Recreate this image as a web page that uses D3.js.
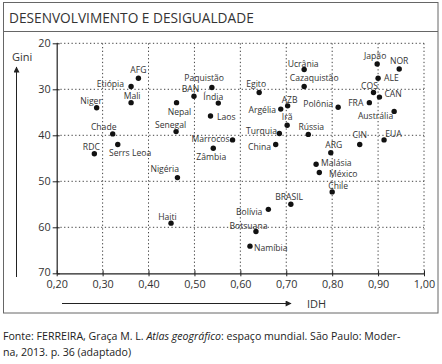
<!DOCTYPE html>
<html><head><meta charset="utf-8">
<script src="https://cdnjs.cloudflare.com/ajax/libs/d3/7.8.5/d3.min.js"></script>
<style>
html,body{margin:0;padding:0;background:#fff;}
svg{display:block;font-family:"Open Sans",sans-serif;}
</style></head>
<body><svg id="c" width="442" height="364"></svg>
<script>
const countries = ["AFG","Etiópia","Mali","Niger","Chade","RDC","Serrs Leoa","Nepal","Senegal","BAN","Paquistão","Índia","Laos","Marrocos","Zâmbia","Egito","Ucrânia","Cazaquistão","AZB","Argélia","Irã","Turquia","China","Rússia","Polônia","Japão","NOR","ALE","COS","CAN","FRA","Austrália","CIN","EUA","ARG","Malásia","México","Chile","BRASIL","Bolívia","Botsuana","Namíbia","Nigéria","Haiti"];
const idh = [0.378,0.362,0.362,0.287,0.322,0.282,0.333,0.461,0.460,0.499,0.538,0.552,0.535,0.583,0.541,0.641,0.739,0.739,0.703,0.688,0.702,0.685,0.677,0.748,0.813,0.898,0.946,0.900,0.890,0.903,0.881,0.935,0.860,0.913,0.797,0.765,0.772,0.800,0.710,0.661,0.634,0.621,0.463,0.449];
const gini = [27.6,29.4,32.9,34.0,39.7,44.0,42.0,32.9,39.2,31.5,29.6,33.0,35.8,41.0,42.8,30.7,25.7,29.4,33.6,34.3,37.8,39.6,42.0,39.8,33.9,24.5,25.6,27.6,30.7,31.7,32.9,34.8,42.0,41.0,43.8,46.3,48.1,52.3,55.0,56.1,60.9,64.1,49.2,59.1];
const xTicks = [0.2,0.3,0.4,0.5,0.6,0.7,0.8,0.9,1.0];
const yTicks = [20,30,40,50,60,70];
const title = "DESENVOLVIMENTO E DESIGUALDADE";
const source1 = ["Fonte: FERREIRA, Graça M. L. ", "Atlas geográfico", ": espaço mundial. São Paulo: Moder-"];
const source2 = "na, 2013. p. 36 (adaptado)";

// label placement: [anchor, dx, dy]
const labelPos = {
 "AFG":["middle",0,-5],"Etiópia":["end",-7,0.5],"Mali":["middle",1,-3.5],"Niger":["middle",-5.5,-3.5],
 "Chade":["middle",-9,-4.3],"RDC":["middle",-3,-4],"Serrs Leoa":["start",-8.7,11.4],"Nepal":["middle",3,12],
 "Senegal":["middle",-5.5,-3.7],"BAN":["middle",-3.5,-4],"Paquistão":["middle",-7.7,-6.4],"Índia":["middle",-5,-3.6],
 "Laos":["start",6.5,3.7],"Marrocos":["end",-3,2],"Zâmbia":["middle",-2,11.4],"Egito":["middle",-3,-5.3],
 "Ucrânia":["middle",-1,-3],"Cazaquistão":["middle",10,-5.4],"AZB":["middle",2,-2.7],"Argélia":["end",-4.7,3.7],
 "Irã":["middle",0,-5.3],"Turquia":["end",-2.3,0.4],"China":["end",-4.7,5.4],"Rússia":["middle",3,-4],
 "Polônia":["end",-5,-0.3],"Japão":["middle",-2,-5],"NOR":["middle",0,-5],"ALE":["start",6,2.4],
 "COS":["middle",-4,-3.7],"CAN":["start",5,0],"FRA":["end",-6,3],"Austrália":["end",-1,7.7],
 "CIN":["middle",0,-6.3],"EUA":["middle",9.5,-3],"ARG":["middle",3,-4.7],"Malásia":["start",5,2],
 "México":["start",9.7,4.6],"Chile":["middle",6,-3],"BRASIL":["middle",-1.7,-4],"Bolívia":["end",-6,5.4],
 "Botsuana":["middle",-7.5,-2.7],"Namíbia":["start",4,4.7],"Nigéria":["middle",-12.7,-5.4],"Haiti":["middle",-3.5,-3.6]
};

const svg = d3.select("#c");
const x = d3.scaleLinear().domain([0.2,1.0]).range([56.7,424]);
const y = d3.scaleLinear().domain([20,70]).range([43.3,273.3]);
const ink = "#333";

// frame
svg.append("rect").attr("x",3.5).attr("y",2.5).attr("width",434.5).attr("height",310.5)
  .attr("fill","none").attr("stroke","#666").attr("stroke-width",1);
svg.append("line").attr("x1",3.5).attr("x2",438).attr("y1",31.5).attr("y2",31.5).attr("stroke","#666");
svg.append("text").attr("x",9).attr("y",23).attr("font-size",13.7).attr("fill",ink).text(title);

// grid
const g = svg.append("g");
g.selectAll("line.vg").data(xTicks.slice(1)).join("line")
  .attr("x1",d=>x(d)).attr("x2",d=>x(d)).attr("y1",y(20)).attr("y2",y(70))
  .attr("stroke","#444").attr("stroke-width",1).attr("stroke-dasharray","1.3,2.4");
g.selectAll("line.hg").data(yTicks.slice(0,-1)).join("line")
  .attr("x1",x(0.2)).attr("x2",x(1.0)).attr("y1",d=>y(d)).attr("y2",d=>y(d))
  .attr("stroke","#444").attr("stroke-width",1).attr("stroke-dasharray","1.3,2.4");

// axes
const xAxis = d3.axisBottom(x).tickValues(xTicks).tickSize(0).tickPadding(7)
  .tickFormat(d=>d3.format(".2f")(d).replace(".",","));
const xa = svg.append("g").attr("transform",`translate(0,${y(70)})`).call(xAxis);
xa.select(".domain").attr("stroke","#222").attr("stroke-width",1.2);
xa.selectAll("text").attr("font-size",10.8).attr("fill",ink).attr("font-family","Open Sans");
xa.selectAll(".tick").append("line").attr("y1",-3).attr("y2",3).attr("stroke","#222");

const yAxis = d3.axisLeft(y).tickValues(yTicks).tickSize(0).tickPadding(6);
const ya = svg.append("g").attr("transform",`translate(${x(0.2)},0)`).call(yAxis);
ya.select(".domain").attr("stroke","#222").attr("stroke-width",1.2);
ya.selectAll("text").attr("font-size",10.8).attr("fill",ink).attr("font-family","Open Sans");
ya.selectAll(".tick").filter(d=>d===70).select("text").attr("dy","0.2em");
ya.selectAll(".tick").append("line").attr("x1",-4).attr("x2",3).attr("stroke","#222");

// arrows
const defs = svg.append("defs");
defs.append("marker").attr("id","ah").attr("viewBox","0 0 10 10").attr("refX",9).attr("refY",5)
  .attr("markerWidth",7).attr("markerHeight",6).attr("markerUnits","userSpaceOnUse").attr("orient","auto")
  .append("path").attr("d","M0,0L10,5L0,10Z").attr("fill","#222");
svg.append("line").attr("x1",16.5).attr("x2",16.5).attr("y1",277).attr("y2",67)
  .attr("stroke","#222").attr("stroke-width",1).attr("marker-end","url(#ah)");
svg.append("text").attr("x",12).attr("y",61).attr("font-size",11).attr("fill",ink).text("Gini");
svg.append("line").attr("x1",62).attr("x2",291).attr("y1",303.5).attr("y2",303.5)
  .attr("stroke","#222").attr("stroke-width",1).attr("marker-end","url(#ah)");
svg.append("text").attr("x",307).attr("y",307.5).attr("font-size",11).attr("fill",ink).text("IDH");

// points
const data = countries.map((c,i)=>({c, x:idh[i], y:gini[i]}));
svg.append("g").selectAll("circle").data(data).join("circle")
  .attr("cx",d=>x(d.x)).attr("cy",d=>y(d.y)).attr("r",2.7).attr("fill","#111");
svg.append("g").selectAll("text").data(data).join("text")
  .attr("x",d=>x(d.x)+labelPos[d.c][1]).attr("y",d=>y(d.y)+labelPos[d.c][2])
  .attr("text-anchor",d=>labelPos[d.c][0])
  .attr("font-size",8.6).attr("fill",ink).text(d=>d.c);

// source
const s1 = svg.append("text").attr("x",3).attr("y",340).attr("font-size",10.6).attr("fill","#222");
s1.append("tspan").text(source1[0]);
s1.append("tspan").attr("font-style","italic").text(source1[1]);
s1.append("tspan").text(source1[2]);
svg.append("text").attr("x",3).attr("y",356).attr("font-size",10.6).attr("fill","#222").text(source2);
</script></body></html>
